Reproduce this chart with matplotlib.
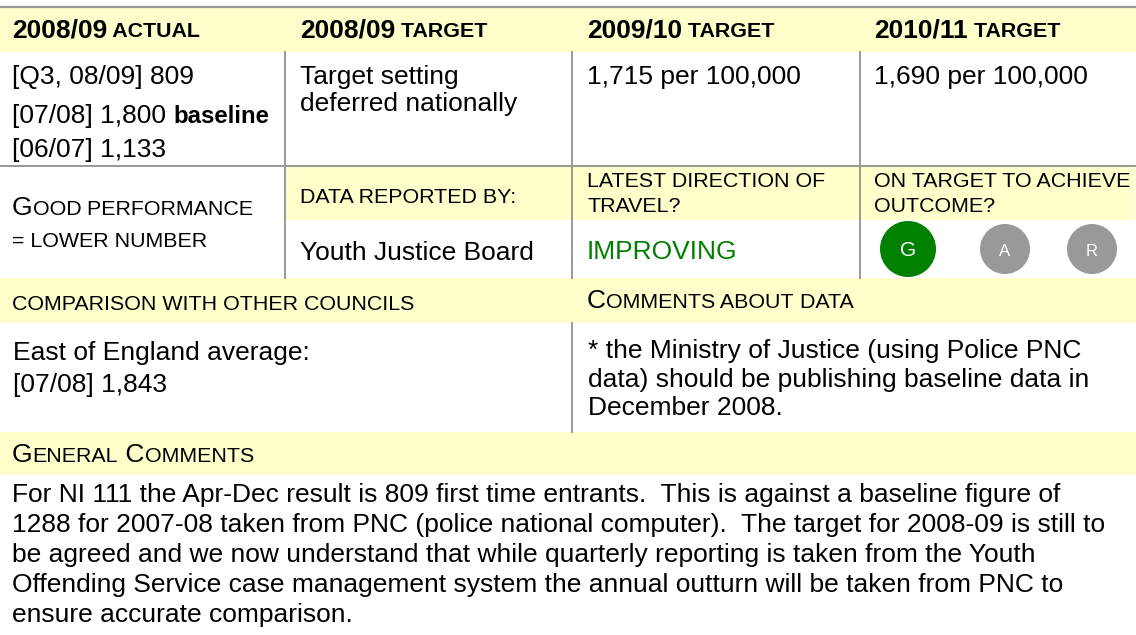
import matplotlib
matplotlib.use("Agg")
import matplotlib.pyplot as plt
from matplotlib.patches import Rectangle, Circle

# ---- content ----
header_years = ["2008/09", "2008/09", "2009/10", "2010/11"]
header_kinds = ["ACTUAL", "TARGET", "TARGET", "TARGET"]

actual_lines = ["[Q3, 08/09] 809", "[07/08] 1,800", "[06/07] 1,133"]
actual_note = "baseline"
target_0809 = ["Target setting", "deferred nationally"]
target_0910 = "1,715 per 100,000"
target_1011 = "1,690 per 100,000"

perf_lines = ["GOOD PERFORMANCE", "= LOWER NUMBER"]
reported_label = "DATA REPORTED BY:"
reported_by = "Youth Justice Board"
direction_label = ["LATEST DIRECTION OF", "TRAVEL?"]
direction = "IMPROVING"
on_target_label = ["ON TARGET TO ACHIEVE", "OUTCOME?"]
rag_letters = ["G", "A", "R"]
rag_active = "G"

comparison_label = "COMPARISON WITH OTHER COUNCILS"
comparison_lines = ["East of England average:", "[07/08] 1,843"]
comments_label = "COMMENTS ABOUT DATA"
comments_lines = ["* the Ministry of Justice (using Police PNC",
                  "data) should be publishing baseline data in",
                  "December 2008."]
general_label = "GENERAL COMMENTS"
general_lines = [
    "For NI 111 the Apr-Dec result is 809 first time entrants.  This is against a baseline figure of",
    "1288 for 2007-08 taken from PNC (police national computer).  The target for 2008-09 is still to",
    "be agreed and we now understand that while quarterly reporting is taken from the Youth",
    "Offending Service case management system the annual outturn will be taken from PNC to",
    "ensure accurate comparison.",
]

# ---- styling ----
W, H = 1136, 635
YELLOW = "#FFFFCC"
GRID = "#999999"
GREEN = "#008000"
BIG = 19.0
SMALL = 15.4
plt.rcParams["font.family"] = ["Liberation Sans", "DejaVu Sans"]

fig = plt.figure(figsize=(W / 100, H / 100), dpi=100)
ax = fig.add_axes([0, 0, 1, 1])
ax.set_xlim(0, W)
ax.set_ylim(H, 0)
ax.axis("off")
renderer = fig.canvas.get_renderer()


def band(x0, x1, y0, y1):
    ax.add_patch(Rectangle((x0, y0), x1 - x0, y1 - y0, color=YELLOW, lw=0, zorder=0))


def runs(x, y, parts, color="black"):
    # draw mixed-size text (small caps) on one baseline
    for txt, size, weight in parts:
        t = ax.text(x, y, txt, fontsize=size, fontweight=weight, color=color,
                    ha="left", va="baseline")
        bb = t.get_window_extent(renderer)
        x += bb.width


def smallcaps(word_caps):
    # word_caps: list of (text, big_first)
    parts = []
    for i, (w, big) in enumerate(word_caps):
        sep = " " if i > 0 else ""
        if big:
            parts.append((sep + w[0], BIG, "normal"))
            parts.append((w[1:], SMALL, "normal"))
        else:
            parts.append((sep + w, SMALL, "normal"))
    return parts


col_x = [0, 285, 572, 860, W]
text_x = [12, 300, 587, 874]

# bands
band(0, W, 8, 52)
for c in range(1, 4):
    band(col_x[c] + 1, col_x[c + 1] - 1, 167, 220)
band(0, W, 278, 323)
band(0, W, 432, 475)

# rules
ax.plot([0, W], [7, 7], color=GRID, lw=1.6)
ax.plot([0, W], [166, 166], color=GRID, lw=1.4)
for c in range(1, 4):
    ax.plot([col_x[c], col_x[c]], [52, 278], color=GRID, lw=1.4)
ax.plot([572, 572], [323, 432], color=GRID, lw=1.4)

# header row
for i in range(4):
    runs(text_x[i], 37, [(header_years[i], BIG, "bold"), (" " + header_kinds[i], SMALL, "bold")])

# first data row
runs(text_x[0], 84, [(actual_lines[0], BIG, "normal")])
runs(text_x[0], 123, [(actual_lines[1] + " ", BIG, "normal"), (actual_note, 17.3, "bold")])
runs(text_x[0], 157, [(actual_lines[2], BIG, "normal")])
for k, line in enumerate(target_0809):
    runs(text_x[1], 84 + 27 * k, [(line, BIG, "normal")])
runs(text_x[2], 84, [(target_0910, BIG, "normal")])
runs(text_x[3], 84, [(target_1011, BIG, "normal")])

# second row
runs(text_x[0], 215, smallcaps([("GOOD", True), ("PERFORMANCE", False)]))
runs(text_x[0], 247, [(perf_lines[1], SMALL, "normal")])
runs(text_x[1], 203, [(reported_label, SMALL, "normal")])
for k, line in enumerate(direction_label):
    runs(text_x[2], 187 + 25 * k, [(line, SMALL, "normal")])
for k, line in enumerate(on_target_label):
    runs(text_x[3], 187 + 25 * k, [(line, SMALL, "normal")])
runs(text_x[1], 260, [(reported_by, BIG, "normal")])
runs(text_x[2], 259, [(direction, BIG, "normal")], color=GREEN)

rag_x = [908, 1005, 1092]
for letter, cx in zip(rag_letters, rag_x):
    active = letter == rag_active
    r = 28 if active else 25
    ax.add_patch(Circle((cx, 249), r, color=GREEN if active else GRID, lw=0, zorder=2))
    ax.text(cx, 251, letter, color="white", fontsize=15 if active else 12,
            ha="center", va="center", zorder=3)

# comparison / comments
runs(text_x[0], 310, [(comparison_label, SMALL, "normal")])
runs(text_x[2], 308, smallcaps([("COMMENTS", True), ("ABOUT", False), ("DATA", False)]))
for k, line in enumerate(comparison_lines):
    runs(13, 360 + 32 * k, [(line, BIG, "normal")])
for k, line in enumerate(comments_lines):
    runs(588, 358 + 28.5 * k, [(line, BIG, "normal")])

# general comments
runs(text_x[0], 462, smallcaps([("GENERAL", True), ("COMMENTS", True)]))
for k, line in enumerate(general_lines):
    runs(12, 502 + 30 * k, [(line, BIG, "normal")])

fig.savefig("out.png", dpi=100)
